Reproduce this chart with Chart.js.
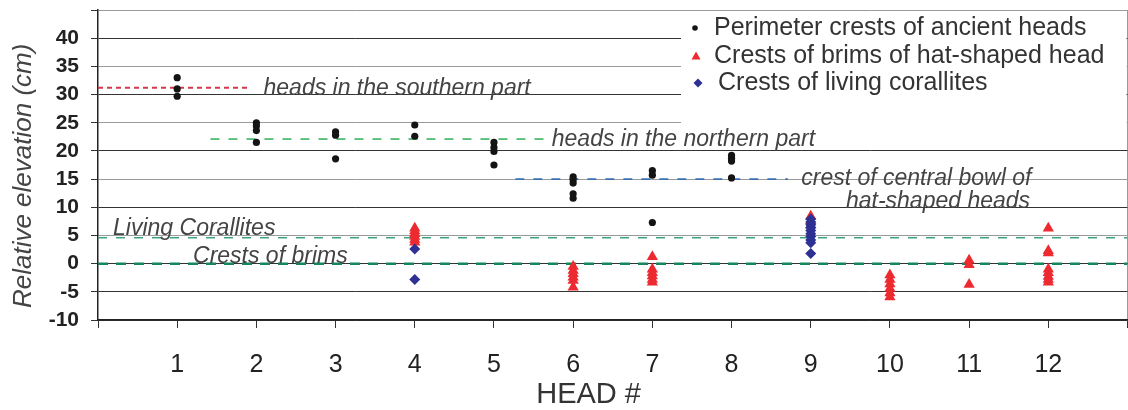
<!DOCTYPE html>
<html>
<head>
<meta charset="UTF-8">
<style>
  html, body { margin: 0; padding: 0; background: #fff; overflow: hidden; }
  .wrap { width: 1128px; height: 410px; overflow: hidden; }
</style>
</head>
<body>
<div class="wrap"><canvas id="myChart" width="1134" height="410"></canvas></div>
<script src="https://cdn.jsdelivr.net/npm/chart.js"></script>
<script>
// perimeter crests of ancient heads
var ancientHead = [1, 1, 1, 2, 2, 2, 2, 3, 3, 3, 4, 4, 5, 5, 5, 5, 6, 6, 6, 6, 6, 7, 7, 7, 8, 8, 8, 8];
var ancientElev = [33, 31, 29.7, 25, 24.4, 23.6, 21.5, 23.4, 22.8, 18.6, 24.6, 22.6, 21.5, 20.6, 19.9, 17.5,
                   15.4, 14.9, 14.3, 12.4, 11.6, 16.5, 15.7, 7.3, 19.2, 18.7, 18.2, 15.2];

// crests of brims of hat-shaped heads
var brimHead = [4, 4, 4, 4, 4, 4, 6, 6, 6, 6, 6, 6, 7, 7, 7, 7, 7, 7, 9, 9, 9,
                10, 10, 10, 10, 10, 10, 11, 11, 11, 12, 12, 12, 12, 12, 12, 12, 12];
var brimElev = [6.3, 5.8, 5.3, 4.8, 4.3, 3.8, -0.5, -1.2, -1.8, -2.4, -3.0, -4.2,
                1.2, -1.0, -1.6, -2.2, -2.8, -3.3, 8.4, 7.6, 6.8,
                -2.0, -2.8, -3.6, -4.4, -5.2, -5.9, 0.6, -0.2, -3.7,
                6.3, 2.3, 1.9, -1.0, -1.6, -2.3, -2.8, -3.3];

// crests of living corallites
var livingHead = [4, 4, 9, 9, 9, 9, 9, 9, 9, 9, 9, 9];
var livingElev = [2.6, -2.8, 7.9, 7.4, 6.9, 6.4, 5.9, 5.3, 4.8, 4.2, 3.7, 1.8];

// reference levels: [x start, x end], level
var southX = [0, 1.92],   southLevel = 31.2;
var northX = [1.42, 5.63], northLevel = 22.1;
var bowlX = [5.27, 8.71],  bowlLevel = 15;
var livingX = [0, 13],     livingLevel = 4.6;
var brimsX = [0, 13],      brimsLevel = 0;

var seriesNames = ["Perimeter crests of ancient heads", "Crests of brims of hat-shaped head", "Crests of living corallites"];
var yTicks = [-10, -5, 0, 5, 10, 15, 20, 25, 30, 35, 40];
var xTicks = [1, 2, 3, 4, 5, 6, 7, 8, 9, 10, 11, 12];

// text on the plot, anchored in data units
var noteText = ["heads in the southern part", "heads in the northern part", "crest of central bowl of",
                "hat-shaped heads", "Living Corallites", "Crests of brims"];
var noteX = [2.09, 5.73, 8.88, 11.77, 0.19, 1.2];
var noteY = [29.9, 20.9, 14.0, 9.9, 5.1, 0.14];
var noteAlign = ['left', 'left', 'left', 'right', 'left', 'left'];

function pts(xs, ys) {
  var out = [];
  for (var i = 0; i < xs.length; i++) out.push({x: xs[i], y: ys[i]});
  return out;
}
function level(xs, y) {
  return [{x: xs[0], y: y}, {x: xs[1], y: y}];
}
function refLine(xs, y, color, width, dash) {
  return {
    type: 'line', data: level(xs, y), borderColor: color, borderWidth: width,
    borderDash: dash, pointRadius: 0, fill: false, showLine: true
  };
}

var BLACK = '#141414', RED = '#ec2a30', BLUE = '#2e3192';
var FONT = 'Arial, "Liberation Sans", sans-serif';

var notesPlugin = {
  id: 'notes',
  afterDatasetsDraw: function(chart) {
    var ctx = chart.ctx, xs = chart.scales.x, ys = chart.scales.y;
    ctx.save();
    ctx.font = 'italic 23px ' + FONT;
    ctx.fillStyle = '#444';
    ctx.textBaseline = 'alphabetic';
    for (var i = 0; i < noteText.length; i++) {
      ctx.textAlign = noteAlign[i];
      ctx.fillText(noteText[i], xs.getPixelForValue(noteX[i]), ys.getPixelForValue(noteY[i]));
    }
    ctx.restore();
  }
};

var legendPlugin = {
  id: 'boxLegend',
  beforeDatasetsDraw: function(chart) {
    var ctx = chart.ctx, a = chart.chartArea;
    var left = 681, top = a.top + 1, bottom = 123;
    ctx.save();
    ctx.fillStyle = '#fff';
    ctx.fillRect(left, top, a.right - 1 - left, bottom - top);
    ctx.restore();
  },
  afterDatasetsDraw: function(chart) {
    var ctx = chart.ctx;
    var rows = [28, 56, 83];
    ctx.save();
    ctx.fillStyle = BLACK;
    ctx.beginPath(); ctx.arc(695, rows[0], 2.8, 0, Math.PI * 2); ctx.fill();
    ctx.fillStyle = RED;
    ctx.beginPath(); ctx.moveTo(696, rows[1] - 4.5); ctx.lineTo(700.5, rows[1] + 3.5); ctx.lineTo(691.5, rows[1] + 3.5); ctx.closePath(); ctx.fill();
    ctx.fillStyle = BLUE;
    ctx.beginPath(); ctx.moveTo(698, rows[2] - 4.5); ctx.lineTo(702.5, rows[2]); ctx.lineTo(698, rows[2] + 4.5); ctx.lineTo(693.5, rows[2]); ctx.closePath(); ctx.fill();
    ctx.font = '25px ' + FONT;
    ctx.fillStyle = '#333';
    ctx.textBaseline = 'middle';
    ctx.fillText(seriesNames[0], 714, rows[0]);
    ctx.fillText(seriesNames[1], 714, rows[1]);
    ctx.fillText(seriesNames[2], 718, rows[2]);
    ctx.restore();
  }
};

var data = {
  datasets: [
    { label: seriesNames[0], data: pts(ancientHead, ancientElev), backgroundColor: BLACK, borderColor: BLACK,
      pointStyle: 'circle', pointRadius: 3.6, borderWidth: 0 },
    { label: seriesNames[2], data: pts(livingHead, livingElev), backgroundColor: BLUE, borderColor: BLUE,
      pointStyle: 'rectRot', pointRadius: 5.5, borderWidth: 0 },
    { label: seriesNames[1], data: pts(brimHead, brimElev), backgroundColor: RED, borderColor: RED,
      pointStyle: 'triangle', pointRadius: 6.5, borderWidth: 0 },
    refLine(southX, southLevel, '#d23a4c', 2, [5, 4]),
    refLine(northX, northLevel, '#3cb464', 1.6, [9, 9]),
    refLine(bowlX, bowlLevel, '#2f6cb3', 1.6, [9, 9]),
    refLine(livingX, livingLevel, '#3aa37e', 1.5, [9, 9]),
    refLine(brimsX, brimsLevel, '#16875d', 2.5, [10, 8])
  ]
};

var config = {
  type: 'scatter',
  data: data,
  options: {
    responsive: false,
    animation: false,
    events: [],
    layout: { padding: { top: 10, right: 2, left: 0, bottom: 0 } },
    plugins: { legend: { display: false }, tooltip: { enabled: false } },
    scales: {
      x: {
        type: 'linear', min: 0, max: 13,
        afterBuildTicks: function(s) { s.ticks = [0].concat(xTicks, [13]).map(function(v) { return {value: v}; }); },
        afterFit: function(s) { s.height = 90; s.paddingLeft = 0; s.paddingRight = 0; },
        ticks: {
          padding: 22, color: '#222', maxRotation: 0, autoSkip: false,
          font: { family: FONT, size: 25 },
          callback: function(v) { return (v >= 1 && v <= 12) ? String(v) : ''; }
        },
        grid: {
          drawOnChartArea: true, tickLength: 8, tickColor: '#333',
          color: function(c) { return (c.tick && c.tick.value === 13) ? '#9a9a9a' : 'rgba(0,0,0,0)'; }
        },
        border: { display: true, color: '#222', width: 1.5 },
        title: {
          display: true, text: 'HEAD #\u00a0\u00a0\u00a0\u00a0\u00a0\u00a0', color: '#333', padding: { top: 0, bottom: -2 },
          font: { family: FONT, size: 29 }
        }
      },
      y: {
        min: -10, max: 45,
        afterBuildTicks: function(s) { s.ticks = yTicks.concat([45]).map(function(v) { return {value: v}; }); },
        afterFit: function(s) { s.width = 98; s.paddingTop = 0; s.paddingBottom = 0; },
        ticks: {
          padding: 12, color: '#222', autoSkip: false,
          font: { family: FONT, size: 21, weight: 'bold' },
          callback: function(v) { return v === 45 ? '' : String(v); }
        },
        grid: {
          tickLength: 7, tickColor: '#333',
          color: function(c) {
            var v = c.tick ? c.tick.value : 0;
            return (v % 10 === 0 || v === -5) ? '#333' : '#9a9a9a';
          }
        },
        border: { display: true, color: '#222', width: 1.5 },
        title: {
          display: true, text: 'Relative elevation (cm)\u00a0\u00a0\u00a0', color: '#444', padding: { top: 8, bottom: 0 },
          font: { family: FONT, size: 26, style: 'italic' }
        }
      }
    }
  },
  plugins: [legendPlugin, notesPlugin]
};

window.myChart = new Chart(document.getElementById('myChart'), config);
</script>
</body>
</html>
